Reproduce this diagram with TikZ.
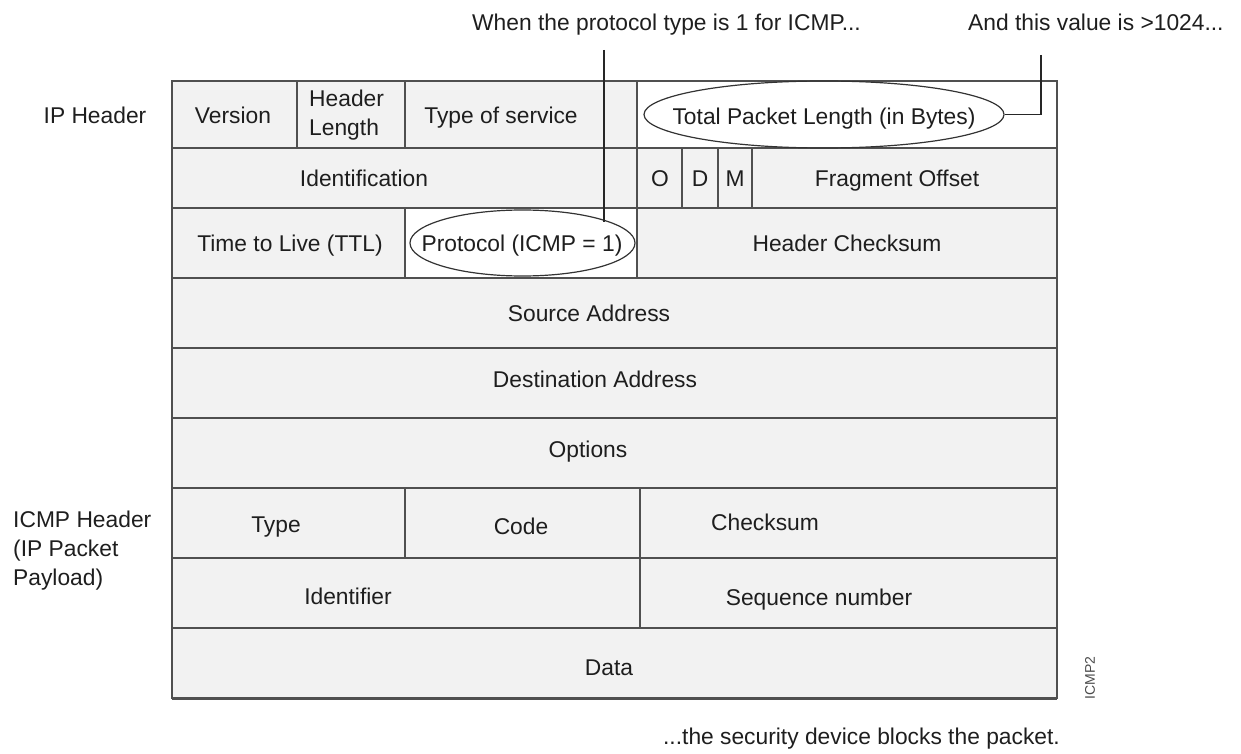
\documentclass[tikz,border=0pt]{standalone}
\usepackage{fontspec}
\setmainfont{Liberation Sans}
\usetikzlibrary{shapes.geometric}
\definecolor{cellgray}{HTML}{F2F2F2}
\definecolor{linegray}{HTML}{505050}
\definecolor{txt}{HTML}{1E1E1E}
\tikzset{
  lbl/.style={font=\fontsize{22.8}{29}\selectfont, text=txt, inner sep=0pt, text height=16.4pt, text depth=0pt},
  mlbl/.style={font=\fontsize{22.8}{29}\selectfont, text=txt, inner sep=0pt, align=left},
  grid/.style={draw=linegray, line width=1.3pt},
  callout/.style={draw=black!85, line width=1.3pt},
  oval/.style={ellipse, draw=black!80, line width=1.2pt, inner sep=0pt}
}
\begin{document}
\begin{tikzpicture}[x=1pt,y=-1pt]
\useasboundingbox (0,0) rectangle (1241,754);
% fills
\fill[cellgray] (172,81) rectangle (1057,698);
\fill[white] (637,81) rectangle (1057,148);
\fill[white] (405,208) rectangle (637,278);
% horizontal lines
\foreach \y in {148,208,278,348,418,488,558,628}
  \draw[grid] (172,\y) -- (1057,\y);
\draw[grid] (172,81) rectangle (1057,698);
\draw[draw=linegray, line width=2.6pt] (172,698.5) -- (1057,698.5);
% vertical lines
\foreach \x in {297,405,637} \draw[grid] (\x,81) -- (\x,148);
\foreach \x in {637,682,718,752} \draw[grid] (\x,148) -- (\x,208);
\foreach \x in {405,637} \draw[grid] (\x,208) -- (\x,278);
\foreach \x in {405,640} \draw[grid] (\x,488) -- (\x,558);
\draw[grid] (640,558) -- (640,628);
% ellipses
\node[oval, minimum width=360pt, minimum height=67pt] (tpl) at (824,114.5) {};
\node[oval, minimum width=225pt, minimum height=66pt] (pr) at (522.5,243) {};
% row 1
\node[lbl] (ver) at (233,115) {Version};
\node[mlbl, anchor=north west] (hl) at (309,90) {Header\\Length};
\node[lbl] (tos) at (501,115) {Type of service};
\node[lbl] (tplt) at (824,116) {Total Packet Length (in Bytes)};
% row 2
\node[lbl] (ident) at (364,178) {Identification};
\node[lbl] (o) at (660,178) {O};
\node[lbl] (d) at (700,178) {D};
\node[lbl] (m) at (735,178) {M};
\node[lbl] (fo) at (897,178) {Fragment Offset};
% row 3
\node[lbl] (ttl) at (290,243) {Time to Live (TTL)};
\node[lbl] (prt) at (522,243) {Protocol (ICMP = 1)};
\node[lbl] (hc) at (847,243) {Header Checksum};
% rows 4-6
\node[lbl] (src) at (589,313) {Source Address};
\node[lbl] (dst) at (595,379) {Destination Address};
\node[lbl] (opt) at (588,449) {Options};
% rows 7-9
\node[lbl] (typ) at (276,524) {Type};
\node[lbl] (code) at (521,526) {Code};
\node[lbl] (cks) at (765,522) {Checksum};
\node[lbl] (idf) at (348,596) {Identifier};
\node[lbl] (seq) at (819,597) {Sequence number};
\node[lbl] (data) at (609,667) {Data};
% side labels
\node[lbl] (iph) at (95,115) {IP Header};
\node[mlbl, anchor=north west] (icmph) at (13,511) {ICMP Header\\(IP Packet\\Payload)};
\node[font=\fontsize{14}{16}\selectfont, text=txt!80, inner sep=0pt, rotate=90] (tag) at (1090,678) {ICMP2};
% callouts
\node[lbl, anchor=base west, text height=, text depth=] (t1) at (472,31) {When the protocol type is 1 for ICMP...};
\node[lbl, anchor=base west, text height=, text depth=] (t2) at (968,31) {And this value is >1024...};
\node[lbl, anchor=base east, text height=, text depth=] (t3) at (1060,744) {...the security device blocks the packet.};
\coordinate (c1) at (604,50);
\coordinate (c2) at (1041,55);
\draw[callout] (c1) -- (604,221.5);
\draw[callout] (c2) |- (tpl.east);
\end{tikzpicture}
\end{document}
